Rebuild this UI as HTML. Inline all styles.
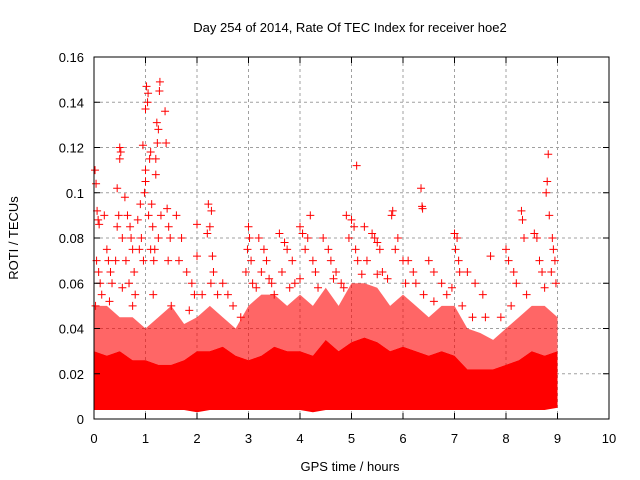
<!DOCTYPE html>
<html><head><meta charset="utf-8"><style>
body{margin:0;background:#fff;}
svg{display:block;font-family:"Liberation Sans",sans-serif;}
</style></head><body>
<svg id="chart" width="640" height="480">
<text x="350" y="32" font-size="13" text-anchor="middle">Day 254 of 2014, Rate Of TEC Index for receiver hoe2</text>
<text x="350" y="471" font-size="13" text-anchor="middle">GPS time / hours</text>
<text x="18" y="238" font-size="13" text-anchor="middle" transform="rotate(-90 18 238)">ROTI / TECUs</text>
<g id="grid"></g>
<g id="marks"></g>
<rect x="94" y="57" width="515" height="362" fill="none" stroke="#000"/>
<g id="ticks"></g>
</svg>
<script>
const xTicks=[0,1,2,3,4,5,6,7,8,9,10];
const yTicks=[0,0.02,0.04,0.06,0.08,0.1,0.12,0.14,0.16];
const yTickLabels=["0","0.02","0.04","0.06","0.08","0.1","0.12","0.14","0.16"];
const bandTimes=[0,0.25,0.5,0.75,1,1.25,1.5,1.75,2,2.25,2.5,2.75,3,3.25,3.5,3.75,4,4.25,4.5,4.75,5,5.25,5.5,5.75,6,6.25,6.5,6.75,7,7.25,7.5,7.75,8,8.25,8.5,8.75,9];
const bandLo=[0.004,0.004,0.004,0.004,0.004,0.004,0.004,0.004,0.003,0.004,0.004,0.004,0.004,0.004,0.004,0.004,0.004,0.003,0.004,0.004,0.004,0.004,0.004,0.004,0.004,0.004,0.004,0.004,0.004,0.004,0.004,0.004,0.004,0.004,0.004,0.004,0.005];
const bandHi=[0.03,0.028,0.03,0.026,0.026,0.024,0.024,0.026,0.03,0.03,0.032,0.028,0.026,0.028,0.032,0.03,0.03,0.028,0.035,0.03,0.034,0.036,0.034,0.03,0.032,0.03,0.028,0.03,0.028,0.022,0.022,0.022,0.024,0.026,0.03,0.028,0.03];
const midHi=[0.05,0.05,0.045,0.045,0.04,0.045,0.05,0.042,0.045,0.05,0.045,0.04,0.05,0.055,0.055,0.05,0.055,0.05,0.058,0.05,0.06,0.06,0.058,0.05,0.055,0.05,0.045,0.05,0.05,0.04,0.038,0.035,0.04,0.045,0.05,0.05,0.045];
const pts=[[0.02,0.11],[0.04,0.104],[0.06,0.092],[0.08,0.088],[0.1,0.086],[0.05,0.07],[0.09,0.065],[0.12,0.06],[0.15,0.055],[0.03,0.05],[0.2,0.09],[0.25,0.075],[0.28,0.07],[0.32,0.065],[0.35,0.06],[0.45,0.102],[0.5,0.12],[0.52,0.118],[0.5,0.115],[0.48,0.09],[0.45,0.085],[0.55,0.08],[0.42,0.07],[0.6,0.098],[0.65,0.09],[0.7,0.085],[0.72,0.08],[0.75,0.075],[0.62,0.07],[0.78,0.065],[0.68,0.06],[0.8,0.055],[0.95,0.121],[1.0,0.11],[0.98,0.1],[0.9,0.095],[0.85,0.088],[0.92,0.08],[0.88,0.075],[0.96,0.07],[1.02,0.147],[1.05,0.144],[1.04,0.14],[1.0,0.137],[1.1,0.118],[1.08,0.115],[1.0,0.105],[1.12,0.095],[1.06,0.09],[1.14,0.085],[1.1,0.075],[1.16,0.07],[1.28,0.149],[1.27,0.145],[1.22,0.131],[1.25,0.128],[1.23,0.122],[1.2,0.115],[1.2,0.108],[1.3,0.09],[1.25,0.08],[1.18,0.075],[1.38,0.136],[1.4,0.122],[1.42,0.093],[1.45,0.085],[1.48,0.08],[1.44,0.07],[1.6,0.09],[1.7,0.08],[1.65,0.07],[1.8,0.065],[1.9,0.06],[1.95,0.055],[2.0,0.086],[2.0,0.072],[2.22,0.095],[2.28,0.092],[2.25,0.085],[2.2,0.082],[2.3,0.072],[2.32,0.065],[2.27,0.06],[2.5,0.06],[2.6,0.055],[2.7,0.05],[2.85,0.045],[3.0,0.085],[3.02,0.08],[2.98,0.075],[3.05,0.07],[2.95,0.065],[3.08,0.06],[3.2,0.08],[3.3,0.075],[3.35,0.07],[3.25,0.065],[3.45,0.06],[3.5,0.055],[3.6,0.082],[3.7,0.078],[3.75,0.075],[3.85,0.07],[3.65,0.065],[3.9,0.06],[4.0,0.085],[4.05,0.082],[4.2,0.09],[4.15,0.08],[4.1,0.075],[4.25,0.07],[4.3,0.065],[4.45,0.08],[4.55,0.075],[4.6,0.07],[4.7,0.065],[4.8,0.06],[4.9,0.09],[5.0,0.088],[5.1,0.112],[5.05,0.085],[4.95,0.08],[5.08,0.075],[5.12,0.07],[5.25,0.085],[5.4,0.082],[5.45,0.08],[5.5,0.078],[5.55,0.075],[5.3,0.07],[5.6,0.065],[5.8,0.092],[5.78,0.09],[5.9,0.08],[5.85,0.075],[6.0,0.07],[6.1,0.07],[6.2,0.065],[6.25,0.06],[6.35,0.102],[6.37,0.094],[6.38,0.093],[6.5,0.07],[6.6,0.065],[6.75,0.06],[6.85,0.055],[7.0,0.082],[7.05,0.08],[7.02,0.075],[7.08,0.07],[7.1,0.065],[7.25,0.065],[7.4,0.06],[7.55,0.055],[7.7,0.072],[8.0,0.075],[8.05,0.07],[8.15,0.065],[8.2,0.06],[8.3,0.092],[8.32,0.088],[8.35,0.08],[8.55,0.082],[8.6,0.08],[8.65,0.07],[8.7,0.065],[8.82,0.117],[8.8,0.105],[8.78,0.1],[8.84,0.09],[8.9,0.08],[8.92,0.075],[8.95,0.07],[8.88,0.065],[8.97,0.06],
[0.3,0.052],[0.55,0.058],[0.75,0.05],[1.15,0.055],[1.5,0.05],[1.85,0.048],[2.1,0.055],[2.4,0.055],[3.15,0.058],[3.4,0.062],[3.8,0.058],[4.0,0.062],[4.35,0.058],[4.65,0.062],[4.85,0.058],[5.2,0.064],[5.5,0.064],[5.7,0.062],[6.05,0.06],[6.4,0.055],[6.6,0.052],[6.95,0.058],[7.15,0.05],[7.35,0.045],[7.6,0.045],[7.9,0.045],[8.1,0.05],[8.4,0.055],[8.75,0.058]];
const X=t=>94+t*51.5;
const Y=v=>419-v*(362/0.16);
const NS="http://www.w3.org/2000/svg";
function mk(tag,attrs,parent){const e=document.createElementNS(NS,tag);for(const k in attrs)e.setAttribute(k,attrs[k]);parent.appendChild(e);return e;}
const grid=document.getElementById('grid'),ticks=document.getElementById('ticks'),marks=document.getElementById('marks');
xTicks.forEach(t=>{
  if(t>0&&t<10){const l=mk('line',{x1:X(t),x2:X(t),y1:57,y2:419,stroke:'#a0a0a0','stroke-dasharray':'3,3'},grid);
  
  }
  const tk=mk('path',{d:`M${X(t)} 419v-6M${X(t)} 57v6`,stroke:'#000'},ticks);
  
  
  const tx=mk('text',{x:X(t),y:443,'font-size':13,'text-anchor':'middle'},ticks);tx.textContent=t;
  
  
});
yTicks.forEach((v,i)=>{
  if(i>0&&i<yTicks.length-1){const l=mk('line',{x1:94,x2:609,y1:Y(v),y2:Y(v),stroke:'#a0a0a0','stroke-dasharray':'3,3'},grid);
  
  }
  const tk=mk('path',{d:`M94 ${Y(v)}h6M609 ${Y(v)}h-6`,stroke:'#000'},ticks);
  
  
  const tx=mk('text',{x:84,y:Y(v)+5,'font-size':13,'text-anchor':'end'},ticks);tx.textContent=yTickLabels[i];
  
  
});
function band(hi,lo,op,name){
  let d='M'+bandTimes.map((t,i)=>X(t)+' '+Y(hi[i])).join(' L');
  d+=' L'+bandTimes.map((t,i)=>X(t)+' '+Y(lo[i])).reverse().join(' L')+'Z';
  const p=mk('path',{d:d,fill:'#ff0000','fill-opacity':op},marks);
  
  
}
band(midHi,bandHi,0.6,'sparse-band');
band(bandHi,bandLo,1,'dense-band');
pts.forEach(p=>{
  const x=X(p[0]),y=Y(p[1]);
  const c=mk('path',{d:`M${x-4} ${y}h8M${x} ${y-4}v8`,stroke:'#ff0000','stroke-width':1},marks);
  
  
});
</script>
</body></html>
